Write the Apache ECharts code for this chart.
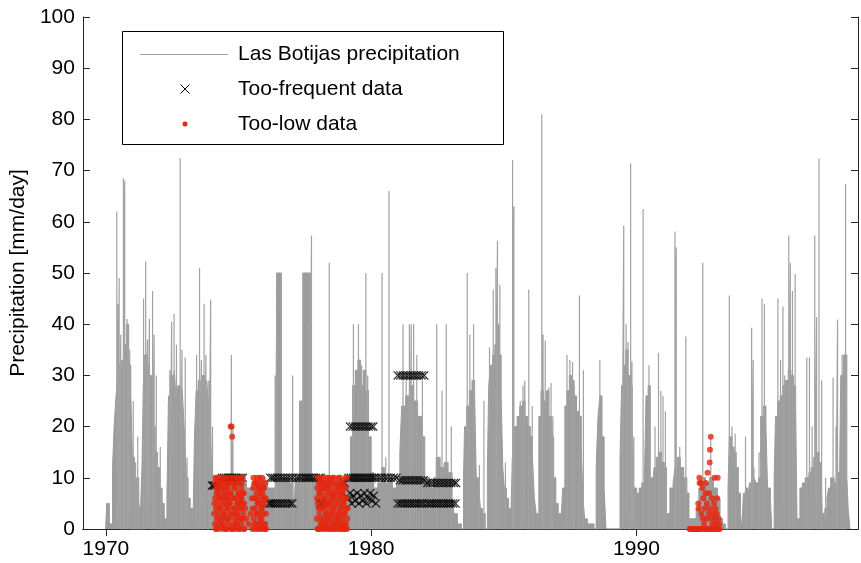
<!DOCTYPE html>
<html>
<head>
<meta charset="utf-8">
<script src="https://cdn.jsdelivr.net/npm/echarts@6.0.0/dist/echarts.min.js"></script>
<style>
  html, body { margin: 0; padding: 0; background: #fff; }
  #chart { width: 861px; height: 563px; }
</style>
</head>
<body>
<div id="chart"></div>
<script>
// x axis range (decimal years) and tick labels
const xMin = 1969.135
const xMax = 1998.35
const xTickYears = [1970, 1980, 1990]

// dense part of the daily record: [year, level], each level holds until the next year
const baseSteps = [
  [1969.99, 0], [1970.03, 5], [1970.13, 1], [1970.25, 12], [1970.31, 20], [1970.37, 25], [1970.44, 30], [1970.52, 32],
  [1970.6, 33], [1970.7, 36], [1970.78, 40], [1970.86, 32], [1970.94, 26], [1971.0, 14], [1971.08, 9], [1971.16, 10],
  [1971.24, 5], [1971.3, 3],
  [1971.36, 12], [1971.41, 28], [1971.46, 34], [1971.55, 32], [1971.64, 30], [1971.72, 26], [1971.78, 20], [1971.86, 15],
  [1971.95, 12], [1972.04, 8], [1972.12, 5], [1972.2, 2],
  [1972.3, 6], [1972.36, 26], [1972.44, 30], [1972.52, 27], [1972.58, 31], [1972.65, 25], [1972.72, 28], [1972.8, 25],
  [1972.88, 27], [1972.95, 20], [1973.02, 10], [1973.1, 6], [1973.18, 4], [1973.28, 0],
  [1973.34, 18], [1973.4, 27], [1973.48, 29], [1973.56, 26], [1973.64, 30], [1973.72, 27], [1973.8, 29], [1973.87, 24],
  [1973.93, 18], [1973.98, 12],
  [1974.05, 10], [1974.4, 9], [1974.7, 10], [1975.0, 9], [1975.3, 8], [1975.5, 9], [1975.8, 10], [1976.02, 9],
  [1976.1, 8], [1976.43, 50], [1976.62, 10], [1976.9, 9], [1977.04, 10], [1977.08, 2], [1977.14, 10], [1977.3, 25],
  [1977.42, 50], [1977.72, 10],
  [1977.95, 9], [1978.3, 10], [1978.6, 9], [1978.9, 10],
  [1979.13, 10], [1979.22, 18], [1979.3, 28], [1979.4, 31], [1979.5, 33], [1979.6, 28], [1979.7, 31], [1979.8, 27],
  [1979.9, 18], [1980.0, 11], [1980.1, 8], [1980.25, 9], [1980.4, 12], [1980.5, 9], [1980.65, 10], [1980.8, 8], [1980.95, 9],
  [1981.08, 15], [1981.15, 24], [1981.3, 26], [1981.45, 28], [1981.6, 25], [1981.75, 22], [1981.9, 18], [1982.02, 10],
  [1982.2, 8], [1982.35, 10], [1982.45, 14], [1982.6, 12], [1982.75, 13], [1982.9, 11], [1983.05, 6], [1983.12, 3],
  [1983.25, 1], [1983.4, 0],
  [1983.48, 10], [1983.52, 20], [1983.6, 24], [1983.7, 27], [1983.8, 29], [1983.9, 26], [1983.96, 10], [1984.05, 8],
  [1984.12, 4], [1984.2, 3], [1984.3, 0],
  [1984.38, 12], [1984.43, 28], [1984.5, 32], [1984.58, 34], [1984.66, 36], [1984.74, 40], [1984.82, 34], [1984.9, 26],
  [1984.96, 12], [1985.02, 8], [1985.1, 6], [1985.18, 4], [1985.26, 1],
  [1985.32, 14], [1985.4, 20], [1985.5, 22], [1985.6, 24], [1985.7, 25], [1985.8, 22], [1985.9, 20], [1986.0, 18],
  [1986.08, 14], [1986.15, 6], [1986.22, 3],
  [1986.32, 22], [1986.4, 27], [1986.5, 25], [1986.6, 27], [1986.7, 22], [1986.8, 18], [1986.88, 10], [1986.96, 5],
  [1987.05, 3], [1987.15, 1],
  [1987.22, 8], [1987.3, 24], [1987.38, 27], [1987.47, 30], [1987.56, 29], [1987.65, 26], [1987.74, 23], [1987.83, 22],
  [1987.92, 16], [1987.98, 6], [1988.05, 2], [1988.15, 1], [1988.3, 1], [1988.4, 0],
  [1988.48, 12], [1988.55, 22], [1988.62, 26], [1988.7, 18], [1988.78, 8], [1988.85, 0],
  [1989.38, 14], [1989.44, 28], [1989.52, 32], [1989.6, 35], [1989.68, 30], [1989.76, 28], [1989.84, 14], [1989.9, 8],
  [1990.0, 7], [1990.1, 8], [1990.2, 9], [1990.3, 10], [1990.36, 26], [1990.44, 28], [1990.52, 10], [1990.6, 8],
  [1990.66, 12], [1990.75, 14], [1990.85, 15], [1990.95, 13], [1991.05, 12], [1991.13, 3], [1991.26, 8], [1991.38, 9],
  [1991.45, 12], [1991.55, 14], [1991.65, 12], [1991.78, 10], [1991.9, 7],
  [1991.98, 2], [1992.25, 4], [1992.35, 8], [1992.45, 10], [1992.6, 9], [1992.75, 10], [1992.9, 8], [1993.05, 6],
  [1993.15, 2], [1993.25, 1], [1993.35, 0],
  [1993.45, 8], [1993.5, 18], [1993.6, 16], [1993.68, 15], [1993.76, 12], [1993.84, 7], [1993.92, 3], [1993.97, 0],
  [1994.03, 7], [1994.12, 8], [1994.2, 6], [1994.26, 9], [1994.35, 12], [1994.43, 10], [1994.5, 9], [1994.6, 10],
  [1994.68, 22], [1994.78, 24], [1994.88, 20], [1994.94, 8], [1995.05, 6], [1995.1, 0],
  [1995.19, 10], [1995.24, 22], [1995.32, 25], [1995.42, 26], [1995.52, 28], [1995.62, 29], [1995.72, 31], [1995.82, 30],
  [1995.92, 28], [1996.0, 24], [1996.05, 2],
  [1996.16, 8], [1996.25, 9], [1996.36, 10], [1996.5, 11], [1996.58, 12], [1996.68, 14], [1996.78, 15], [1996.88, 13],
  [1996.96, 10], [1997.0, 3],
  [1997.1, 4], [1997.18, 6], [1997.24, 8], [1997.32, 10], [1997.45, 9], [1997.55, 11], [1997.65, 8], [1997.7, 30],
  [1997.8, 34], [1997.93, 10], [1997.98, 4], [1998.05, 0]
]

// single rainy days standing above the dense part: [year, mm/day]
const spikes = [
  [1970.41, 62], [1970.46, 44], [1970.5, 49], [1970.56, 38], [1970.66, 68.5], [1970.71, 68], [1970.8, 41], [1970.84, 40],
  [1970.9, 35], [1971.03, 25], [1971.12, 13], [1971.2, 18],
  [1971.42, 45], [1971.5, 52.3], [1971.57, 37], [1971.64, 41], [1971.76, 46.5], [1971.82, 38], [1971.9, 30], [1972.05, 16],
  [1972.41, 31], [1972.48, 40.5], [1972.57, 42], [1972.66, 36], [1972.8, 72.4], [1972.87, 35], [1972.99, 33.5], [1973.06, 14],
  [1973.42, 34], [1973.53, 51], [1973.6, 33], [1973.7, 44], [1973.77, 34], [1973.88, 29], [1973.95, 44.8], [1974.02, 20],
  [1974.72, 20], [1974.73, 34], [1974.79, 20],
  [1976.38, 30], [1976.45, 50], [1976.6, 50], [1977.04, 30], [1977.35, 25], [1977.45, 50], [1977.6, 40], [1977.68, 50],
  [1977.75, 57.3], [1978.42, 52],
  [1979.33, 40], [1979.52, 40], [1979.64, 32], [1979.8, 50], [1979.87, 30],
  [1980.41, 50], [1980.55, 14], [1980.67, 66],
  [1981.2, 40], [1981.32, 30], [1981.44, 40], [1981.51, 40], [1981.6, 40], [1981.72, 34], [1981.93, 29],
  [1982.47, 40], [1982.67, 27], [1982.83, 40], [1983.02, 20],
  [1983.62, 50], [1983.72, 38], [1983.86, 40], [1984.08, 12.5], [1984.25, 25],
  [1984.46, 35.5], [1984.6, 46.8], [1984.7, 51], [1984.76, 56.3], [1984.85, 47.7], [1985.06, 13],
  [1985.33, 72], [1985.38, 63], [1985.62, 25], [1985.72, 28], [1985.79, 29], [1985.94, 46.8], [1986.07, 24],
  [1986.43, 81], [1986.48, 38], [1986.56, 36.8], [1986.69, 27.6], [1986.78, 28.5], [1986.85, 22],
  [1987.38, 34], [1987.49, 33], [1987.59, 32.6], [1987.65, 28], [1987.85, 45.6], [1988.0, 31], [1988.62, 33],
  [1989.45, 20], [1989.52, 59.3], [1989.61, 40], [1989.68, 36.5], [1989.78, 71.4], [1989.83, 32.7], [1989.9, 18],
  [1990.25, 62.5], [1990.47, 32], [1990.7, 20], [1990.83, 34.4], [1990.92, 27], [1991.0, 26], [1991.09, 23],
  [1991.45, 58.1], [1991.5, 55], [1991.63, 16], [1991.86, 37.6],
  [1992.5, 52], [1992.8, 18],
  [1993.5, 45.6], [1993.6, 20], [1993.72, 18.6],
  [1994.11, 18], [1994.34, 39.3], [1994.4, 33], [1994.62, 15], [1994.73, 45], [1994.82, 44],
  [1995.33, 45], [1995.43, 33], [1995.52, 43.5], [1995.59, 30], [1995.74, 57.3], [1995.8, 52], [1995.88, 46.5], [1995.98, 49.8],
  [1996.42, 33.5], [1996.52, 33.5], [1996.62, 20], [1996.72, 57.3], [1996.79, 41.4], [1996.88, 72.3], [1996.98, 29],
  [1997.13, 10], [1997.41, 29.6], [1997.52, 20], [1997.58, 40.9], [1997.75, 34], [1997.88, 67.4]
]

// values repeated too often: [year, mm/day]
const tooFrequent = [
  [1974.0, 8.5], [1974.06, 8.5], [1974.12, 8.5],
  [1974.37, 10], [1974.45, 10], [1974.52, 10], [1974.6, 10], [1974.68, 10], [1974.76, 10], [1974.84, 10], [1974.92, 10],
  [1975.0, 10], [1975.08, 10], [1975.16, 10],
  [1976.2, 10], [1976.28, 10], [1976.36, 10], [1976.46, 10], [1976.56, 10], [1976.66, 10], [1976.76, 10], [1976.86, 10],
  [1976.96, 10], [1977.06, 10], [1977.18, 10], [1977.28, 10], [1977.38, 10], [1977.48, 10], [1977.56, 10], [1977.64, 10],
  [1977.72, 10], [1977.82, 10], [1977.92, 10], [1978.02, 10], [1978.1, 10],
  [1976.15, 5], [1976.22, 5], [1976.3, 5], [1976.38, 5], [1976.47, 5], [1976.56, 5], [1976.65, 5], [1976.75, 5],
  [1976.85, 5], [1976.95, 5], [1977.03, 5], [1978.08, 5], [1978.15, 5], [1978.9, 9], [1979.0, 9],
  [1979.2, 20], [1979.3, 20], [1979.4, 20], [1979.5, 20], [1979.6, 20], [1979.7, 20], [1979.8, 20], [1979.9, 20],
  [1980.0, 20], [1980.08, 20],
  [1979.15, 10], [1979.23, 10], [1979.31, 10], [1979.39, 10], [1979.47, 10], [1979.55, 10], [1979.63, 10], [1979.71, 10],
  [1979.79, 10], [1979.87, 10], [1979.95, 10], [1980.03, 10], [1980.11, 10], [1980.2, 10],
  [1979.13, 6], [1979.2, 7], [1979.26, 5], [1979.33, 6.5], [1979.4, 5.5], [1979.47, 7], [1979.54, 5], [1979.61, 6.5],
  [1979.68, 5.5], [1979.75, 7], [1979.82, 5], [1979.89, 6], [1979.96, 7], [1980.03, 5.5], [1980.1, 6.5], [1980.18, 5],
  [1980.3, 10], [1980.4, 10], [1980.52, 10], [1980.62, 10], [1980.74, 10], [1980.85, 10], [1980.95, 10],
  [1981.0, 30], [1981.1, 30], [1981.2, 30], [1981.3, 30], [1981.4, 30], [1981.5, 30], [1981.6, 30], [1981.7, 30],
  [1981.8, 30], [1981.9, 30], [1982.0, 30],
  [1981.08, 9.5], [1981.18, 9.5], [1981.28, 9.5], [1981.38, 9.5], [1981.48, 9.5], [1981.58, 9.5], [1981.68, 9.5],
  [1981.78, 9.5], [1981.88, 9.5], [1981.98, 9.5],
  [1981.0, 5], [1981.1, 5], [1981.18, 5], [1981.27, 5], [1981.36, 5], [1981.45, 5], [1981.54, 5], [1981.63, 5],
  [1981.72, 5], [1981.81, 5], [1981.9, 5], [1981.98, 5],
  [1982.12, 9], [1982.22, 9], [1982.32, 9], [1982.42, 9], [1982.52, 9], [1982.62, 9], [1982.72, 9], [1982.82, 9],
  [1982.92, 9], [1983.02, 9], [1983.12, 9], [1983.2, 9],
  [1982.1, 5], [1982.19, 5], [1982.28, 5], [1982.37, 5], [1982.46, 5], [1982.55, 5], [1982.64, 5], [1982.73, 5],
  [1982.82, 5], [1982.91, 5], [1983.0, 5], [1983.09, 5], [1983.18, 5]
]

// values flagged as too low: [year, mm/day]
const tooLow = [
  [1974.08, 3], [1974.1, 9], [1974.12, 6], [1974.14, 0], [1974.16, 8], [1974.18, 2], [1974.2, 10], [1974.22, 5],
  [1974.24, 1], [1974.26, 7], [1974.28, 4], [1974.3, 9], [1974.32, 0], [1974.34, 6], [1974.36, 2], [1974.38, 8],
  [1974.4, 5], [1974.42, 1], [1974.44, 10], [1974.46, 3], [1974.48, 7], [1974.5, 0], [1974.52, 9], [1974.54, 4],
  [1974.56, 6], [1974.58, 2], [1974.6, 8], [1974.62, 1], [1974.64, 5], [1974.66, 10], [1974.68, 3], [1974.7, 20],
  [1974.72, 7], [1974.74, 20], [1974.76, 18], [1974.78, 0], [1974.8, 9], [1974.82, 4], [1974.84, 6], [1974.86, 2],
  [1974.88, 8], [1974.9, 1], [1974.92, 10], [1974.94, 5], [1974.96, 3], [1974.98, 7], [1975.0, 0], [1975.02, 9],
  [1975.04, 4], [1975.06, 6], [1975.08, 2], [1975.1, 8], [1975.12, 1], [1975.14, 5], [1975.16, 10], [1975.18, 3],
  [1975.2, 7], [1975.22, 0], [1975.25, 4], [1975.3, 2], [1975.38, 1], [1975.45, 3], [1975.5, 6], [1975.52, 0],
  [1975.55, 8], [1975.57, 2], [1975.6, 9], [1975.62, 4], [1975.64, 6], [1975.66, 1], [1975.68, 7], [1975.7, 3],
  [1975.72, 9], [1975.74, 0], [1975.76, 5], [1975.78, 8], [1975.8, 2], [1975.82, 6], [1975.84, 1], [1975.86, 9],
  [1975.88, 4], [1975.9, 7], [1975.92, 0], [1975.94, 3], [1975.96, 8], [1975.98, 5], [1976.0, 1], [1976.02, 6], [1976.04, 0],
  [1974.09, 5], [1974.11, 1], [1974.13, 10], [1974.15, 4], [1974.17, 7], [1974.19, 0], [1974.21, 8], [1974.23, 3],
  [1974.25, 9], [1974.27, 6], [1974.29, 2], [1974.31, 10], [1974.33, 4], [1974.35, 8], [1974.37, 1], [1974.39, 6],
  [1974.41, 9], [1974.43, 3], [1974.45, 7], [1974.47, 0], [1974.49, 5], [1974.51, 10], [1974.53, 2], [1974.55, 8],
  [1974.57, 0], [1974.59, 6], [1974.61, 4], [1974.63, 9], [1974.65, 2], [1974.67, 7], [1974.69, 5], [1974.71, 0],
  [1974.73, 9], [1974.75, 3], [1974.77, 6], [1974.79, 10], [1974.81, 1], [1974.83, 8], [1974.85, 4], [1974.87, 0],
  [1974.89, 6], [1974.91, 3], [1974.93, 9], [1974.95, 1], [1974.97, 10], [1974.99, 5], [1975.01, 2], [1975.03, 7],
  [1975.05, 0], [1975.07, 10], [1975.09, 4], [1975.11, 6], [1975.13, 9], [1975.15, 2], [1975.17, 7], [1975.19, 0],
  [1975.21, 5], [1975.53, 4], [1975.56, 10], [1975.59, 1], [1975.61, 6], [1975.63, 0], [1975.65, 9], [1975.67, 3],
  [1975.69, 10], [1975.71, 5], [1975.73, 1], [1975.75, 8], [1975.77, 3], [1975.79, 10], [1975.81, 0], [1975.83, 7],
  [1975.85, 4], [1975.87, 2], [1975.89, 10], [1975.91, 5], [1975.93, 8], [1975.95, 1], [1975.97, 6], [1975.99, 0],
  [1976.01, 9], [1976.03, 3],
  [1977.95, 2], [1977.97, 8], [1977.99, 5], [1978.01, 0], [1978.03, 9], [1978.05, 3], [1978.07, 7], [1978.09, 1],
  [1978.11, 10], [1978.13, 4], [1978.15, 6], [1978.17, 0], [1978.19, 8], [1978.21, 2], [1978.23, 9], [1978.25, 5],
  [1978.27, 1], [1978.29, 7], [1978.31, 3], [1978.33, 10], [1978.35, 0], [1978.37, 6], [1978.39, 4], [1978.41, 8],
  [1978.43, 2], [1978.45, 9], [1978.47, 5], [1978.49, 0], [1978.51, 7], [1978.53, 3], [1978.55, 10], [1978.57, 1],
  [1978.59, 6], [1978.61, 8], [1978.63, 4], [1978.65, 0], [1978.67, 9], [1978.69, 2], [1978.71, 7], [1978.73, 5],
  [1978.75, 1], [1978.77, 10], [1978.79, 3], [1978.81, 8], [1978.83, 0], [1978.85, 6], [1978.87, 4], [1978.89, 9],
  [1978.91, 2], [1978.93, 7], [1978.95, 0], [1978.97, 5], [1978.99, 8], [1979.01, 3], [1979.03, 10], [1979.05, 1],
  [1979.07, 6], [1979.09, 0], [1979.11, 4],
  [1977.96, 6], [1977.98, 0], [1978.0, 10], [1978.02, 4], [1978.04, 7], [1978.06, 0], [1978.08, 9], [1978.1, 5],
  [1978.12, 2], [1978.14, 8], [1978.16, 1], [1978.18, 10], [1978.2, 4], [1978.22, 6], [1978.24, 0], [1978.26, 8],
  [1978.28, 3], [1978.3, 9], [1978.32, 5], [1978.34, 1], [1978.36, 8], [1978.38, 2], [1978.4, 10], [1978.42, 5],
  [1978.44, 0], [1978.46, 7], [1978.48, 3], [1978.5, 9], [1978.52, 1], [1978.54, 6], [1978.56, 4], [1978.58, 0],
  [1978.6, 10], [1978.62, 2], [1978.64, 7], [1978.66, 5], [1978.68, 1], [1978.7, 9], [1978.72, 3], [1978.74, 0],
  [1978.76, 6], [1978.78, 8], [1978.8, 2], [1978.82, 10], [1978.84, 4], [1978.86, 1], [1978.88, 7], [1978.9, 5],
  [1978.92, 0], [1978.94, 9], [1978.96, 3], [1978.98, 1], [1979.0, 6], [1979.02, 0], [1979.04, 8], [1979.06, 4],
  [1979.08, 10], [1979.1, 2],
  [1992.0, 0], [1992.04, 0], [1992.08, 0], [1992.12, 0], [1992.16, 0], [1992.2, 0], [1992.24, 0], [1992.28, 0],
  [1992.32, 0], [1992.36, 0], [1992.4, 0], [1992.44, 0], [1992.54, 0], [1992.6, 0], [1992.66, 0], [1992.74, 0],
  [1992.8, 0], [1992.86, 0], [1992.96, 0], [1993.02, 0],
  [1992.33, 5], [1992.34, 4], [1992.37, 10], [1992.38, 9], [1992.42, 9], [1992.45, 3], [1992.48, 8], [1992.5, 2],
  [1992.52, 6], [1992.55, 1], [1992.58, 4], [1992.6, 7], [1992.62, 9], [1992.64, 2], [1992.66, 5], [1992.68, 11],
  [1992.7, 0], [1992.72, 3], [1992.74, 7], [1992.76, 13], [1992.77, 15.5], [1992.78, 4], [1992.8, 18], [1992.82, 2],
  [1992.84, 6], [1992.86, 1], [1992.88, 3], [1992.9, 0], [1992.92, 5], [1992.94, 10], [1992.96, 2], [1992.98, 4],
  [1993.0, 1], [1993.02, 3], [1993.04, 6], [1993.06, 10], [1993.08, 0], [1993.1, 2], [1993.12, 1], [1993.14, 0]
]

const grayColor = '#9c9c9c'
const redColor = '#e6260e'
const axisColor = '#262626'
const fontFamily = '"Liberation Sans", Arial, sans-serif'
const xMarker = 'path://M0,1L1,0L5,4L9,0L10,1L6,5L10,9L9,10L5,6L1,10L0,9L4,5Z'

// every spike is drawn as a vertical stroke up from zero
const spikeLine = []
spikes.forEach(function (s) {
  spikeLine.push([s[0], 0], [s[0], s[1]], [s[0], 0])
})

const hiddenLabel = { show: false }
const tickStyle = { color: axisColor, width: 1 }

const option = {
  animation: false,
  backgroundColor: '#fff',
  textStyle: { fontFamily: fontFamily },
  grid: { left: 81, right: 3, top: 17, bottom: 34 },
  xAxis: [
    {
      type: 'value',
      min: xMin,
      max: xMax,
      axisLine: { lineStyle: { color: axisColor } },
      axisTick: { inside: true, length: 7, customValues: xTickYears, lineStyle: tickStyle },
      axisLabel: {
        customValues: xTickYears,
        fontSize: 21,
        color: '#000',
        margin: 10,
        formatter: function (v) { return String(Math.round(v)) }
      },
      splitLine: { show: false }
    },
    {
      type: 'value',
      position: 'top',
      min: xMin,
      max: xMax,
      axisLine: { lineStyle: { color: axisColor } },
      axisTick: { inside: true, length: 7, customValues: xTickYears, lineStyle: tickStyle },
      axisLabel: hiddenLabel,
      splitLine: { show: false }
    }
  ],
  yAxis: [
    {
      type: 'value',
      min: 0,
      max: 100,
      interval: 10,
      name: 'Precipitation [mm/day]',
      nameLocation: 'middle',
      nameGap: 52,
      nameTextStyle: { fontSize: 21, color: '#000', fontFamily: fontFamily },
      axisLine: { show: true, lineStyle: { color: axisColor } },
      axisTick: { show: true, inside: true, length: 7, lineStyle: tickStyle },
      axisLabel: { fontSize: 21, color: '#000', margin: 8 },
      splitLine: { show: false }
    },
    {
      type: 'value',
      position: 'right',
      min: 0,
      max: 100,
      interval: 10,
      axisLine: { show: true, lineStyle: { color: axisColor } },
      axisTick: { show: true, inside: true, length: 7, lineStyle: tickStyle },
      axisLabel: hiddenLabel,
      splitLine: { show: false }
    }
  ],
  graphic: [
    {
      type: 'rect', z: 100,
      shape: { x: 122.5, y: 31.5, width: 381, height: 113 },
      style: { fill: '#fff', stroke: '#000', lineWidth: 1 }
    },
    {
      type: 'line', z: 101,
      shape: { x1: 140, y1: 54.5, x2: 228, y2: 54.5 },
      style: { stroke: '#a0a0a0', lineWidth: 1 }
    },
    {
      type: 'line', z: 101,
      shape: { x1: 180.5, y1: 84.5, x2: 189.5, y2: 93.5 },
      style: { stroke: '#000', lineWidth: 1 }
    },
    {
      type: 'line', z: 101,
      shape: { x1: 189.5, y1: 84.5, x2: 180.5, y2: 93.5 },
      style: { stroke: '#000', lineWidth: 1 }
    },
    {
      type: 'circle', z: 101,
      shape: { cx: 185, cy: 124, r: 2.5 },
      style: { fill: redColor }
    },
    {
      type: 'text', z: 101, x: 238, y: 54,
      style: { text: 'Las Botijas precipitation', fill: '#000', fontSize: 21, fontFamily: fontFamily, verticalAlign: 'middle' }
    },
    {
      type: 'text', z: 101, x: 238, y: 89,
      style: { text: 'Too-frequent data', fill: '#000', fontSize: 21, fontFamily: fontFamily, verticalAlign: 'middle' }
    },
    {
      type: 'text', z: 101, x: 238, y: 124,
      style: { text: 'Too-low data', fill: '#000', fontSize: 21, fontFamily: fontFamily, verticalAlign: 'middle' }
    }
  ],
  series: [
    {
      name: 'Las Botijas precipitation',
      type: 'line',
      step: 'end',
      data: baseSteps,
      symbol: 'none',
      z: 2,
      lineStyle: { color: grayColor, width: 1 },
      areaStyle: { color: grayColor, opacity: 1 }
    },
    {
      name: 'Las Botijas precipitation (peaks)',
      type: 'line',
      data: spikeLine,
      symbol: 'none',
      z: 3,
      lineStyle: { color: '#a2a2a2', width: 1.2 }
    },
    {
      name: 'Too-frequent data',
      type: 'scatter',
      data: tooFrequent,
      symbol: xMarker,
      symbolSize: 9,
      z: 4,
      itemStyle: { color: '#000' }
    },
    {
      name: 'Too-low data',
      type: 'scatter',
      data: tooLow,
      symbol: 'circle',
      symbolSize: 6,
      z: 5,
      itemStyle: { color: redColor }
    }
  ]
}

const chart = echarts.init(document.getElementById('chart'))
chart.setOption(option)
</script>
</body>
</html>
